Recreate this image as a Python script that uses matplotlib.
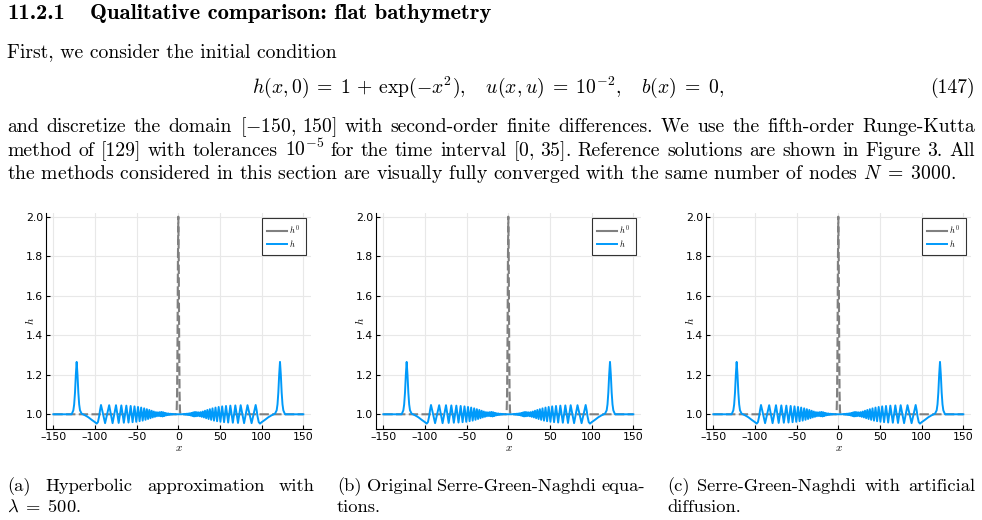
import re
import numpy as np
import matplotlib
matplotlib.use('Agg')
import matplotlib.pyplot as plt
from matplotlib.lines import Line2D

# page size in pixels
W, H = 982, 520

# ---- data ----
# initial condition h0 (gaussian bump at x=0)
h0_x = [-150, -2.5, -2, -1.5, -1, -0.5, 0, 0.5, 1, 1.5, 2, 2.5, 150]
h0_y = [1.0, 1.0, 1.018, 1.105, 1.368, 1.779, 2.0, 1.779, 1.368, 1.105, 1.018, 1.0, 1.0]

# left going solitary wave + dispersive tail (x < 0)
left_x = [-150, -128, -126, -125, -124, -123, -122, -121, -120, -119, -118, -116,
          -112, -108, -104, -100, -98, -96.5, -95, -94,
          -92.8, -87.9, -83.0, -78.9, -74.8, -71.6, -68.4, -65.4, -62.4, -59.8,
          -57.2, -54.9, -52.6, -50.5, -48.4, -46.5, -44.6, -42.8, -41.0, -39.4,
          -37.8, -36.3, -34.8, -33.4, -32.0, -30.7, -29.4, -28.1, -26.9, -25.7,
          -24.5, -23.3, -22.2, -21.1, -20.0, -18.9, -17.9, -16.8, -15.8, -14.8,
          -13.8, -12.8, -11.8, -10.8, -9.8, -8.8, -7.8, -6.8, -5.8, -4.0, -2.0, 0.0]
left_h = [1.0, 1.0, 1.02, 1.05, 1.11, 1.2, 1.265, 1.2, 1.11, 1.05, 1.02, 1.003,
          0.995, 0.985, 0.972, 0.96, 0.953, 0.96, 0.99, 1.02,
          1.047, 0.955, 1.046, 0.955, 1.046, 0.956, 1.045, 0.957, 1.044, 0.958,
          1.042, 0.960, 1.040, 0.962, 1.037, 0.965, 1.034, 0.968, 1.030, 0.972,
          1.026, 0.976, 1.022, 0.980, 1.018, 0.984, 1.014, 0.987, 1.011, 0.990,
          1.010, 0.991, 1.011, 0.990, 1.012, 0.989, 1.010, 0.991, 1.007, 0.994,
          1.005, 0.996, 1.004, 0.997, 1.003, 0.998, 1.002, 0.999, 1.001, 1.0, 1.0, 1.0]

# right going solitary wave + dispersive tail (x > 0)
right_x = [2.0, 4.0, 5.8, 6.8, 7.8, 8.8, 9.8, 10.8, 11.8, 12.8, 13.8, 14.8,
           15.8, 16.8, 17.9, 18.9, 20.0, 21.1, 22.2, 23.3, 24.5, 25.7, 26.9, 28.1,
           29.4, 30.7, 32.0, 33.4, 34.8, 36.3, 37.8, 39.4, 41.0, 42.8, 44.6, 46.5,
           48.4, 50.5, 52.6, 54.9, 57.2, 59.8, 62.4, 65.4, 68.4, 71.6, 74.8, 78.9,
           83.0, 87.9, 92.8,
           94, 95, 96.5, 98, 100, 104, 108, 112,
           116, 118, 119, 120, 121, 122, 123, 124, 125, 126, 128, 150]
right_h = [1.0, 1.0, 1.001, 0.999, 1.002, 0.998, 1.003, 0.997, 1.004, 0.996, 1.005, 0.994,
           1.007, 0.991, 1.010, 0.989, 1.012, 0.990, 1.011, 0.991, 1.010, 0.990, 1.011, 0.987,
           1.014, 0.984, 1.018, 0.980, 1.022, 0.976, 1.026, 0.972, 1.030, 0.968, 1.034, 0.965,
           1.037, 0.962, 1.040, 0.960, 1.042, 0.958, 1.044, 0.957, 1.045, 0.956, 1.046, 0.955,
           1.046, 0.955, 1.047,
           1.02, 0.99, 0.96, 0.953, 0.96, 0.972, 0.985, 0.995,
           1.003, 1.02, 1.05, 1.11, 1.2, 1.265, 1.2, 1.11, 1.05, 1.02, 1.0, 1.0]

xticks = [-150, -100, -50, 0, 50, 100, 150]
xticklabels = ["\u2013150", "\u2013100", "\u201350", "0", "50", "100", "150"]
yticks = [1.0, 1.2, 1.4, 1.6, 1.8, 2.0]

heading_num = "11.2.1"
heading = "Qualitative comparison: flat bathymetry"
intro = "First, we consider the initial condition"
equation = (r"$h(x,0)\;=\;1\,+\,\exp(-x^2),\quad u(x,u)\;=\;10^{-2},"
            r"\quad b(x)\;=\;0,$")
eq_number = "(147)"
paragraph = [
    r"and discretize the domain $[-150,\,150]$ with second-order finite differences. We use the fifth-order Runge-Kutta",
    r"method of [129] with tolerances $10^{-5}$ for the time interval $[0,\,35]$. Reference solutions are shown in Figure 3. All",
    r"the methods considered in this section are visually fully converged with the same number of nodes $N\;=\;3000$.",
]
captions = [
    ("(a) Hyperbolic approximation with", r"$\lambda\;=\;500$."),
    ("(b) Original Serre-Green-Naghdi equa-", "tions."),
    ("(c) Serre-Green-Naghdi with artificial", "diffusion."),
]

plt.rcParams['mathtext.fontset'] = 'cm'
plt.rcParams['axes.unicode_minus'] = False

fig = plt.figure(figsize=(W / 100, H / 100), dpi=100)
renderer = fig.canvas.get_renderer()

TXT = dict(family='cmr10', size=14.2)


def put(x, y, s, **kw):
    opts = dict(TXT)
    opts.update(kw)
    return fig.text(x / W, 1 - y / H, s, va='baseline', **opts)


def justify(line, x0, x1, y, size=14.2):
    words = re.findall(r'\$[^$]*\$\S*|\S+', line)
    texts = [put(0, y, w, size=size) for w in words]
    widths = [t.get_window_extent(renderer).width for t in texts]
    gap = (x1 - x0 - sum(widths)) / (len(words) - 1)
    x = x0
    for t, w in zip(texts, widths):
        t.set_x(x / W)
        x += w + gap


# ---- page text ----
put(7, 19, heading_num, family='cmb10', size=16.3)
put(90, 19, heading, family='cmb10', size=16.3)
put(7, 57, intro)
put(488, 93, equation, ha='center')
put(975, 93, eq_number, ha='right')
justify(paragraph[0], 7, 975, 132)
justify(paragraph[1], 7, 975, 156)
put(7, 179, paragraph[2])

# ---- the three panels ----
h_x = left_x + right_x
h_y = left_h + right_h
col_left = [7, 337, 667]
ax_left = [46, 376, 706]
for i in range(3):
    l = ax_left[i]
    ax = fig.add_axes([l / W, 1 - 429.3 / H, 265 / W, 216 / H])
    ax.plot(h0_x, h0_y, color='#808080', lw=1.5, ls=(0, (4.5, 1.6)))
    ax.plot(h_x, h_y, color='#009AFA', lw=1.4)
    ax.set_xlim(-158.8, 159.2)
    ax.set_ylim(0.924, 2.017)
    ax.set_xticks(xticks)
    ax.set_xticklabels(xticklabels)
    ax.set_yticks(yticks)
    ax.set_yticklabels([f"{v:.1f}" for v in yticks])
    ax.grid(True, color='#e8e8e8', lw=0.8)
    ax.set_axisbelow(True)
    for s in ['top', 'right']:
        ax.spines[s].set_visible(False)
    for s in ['left', 'bottom']:
        ax.spines[s].set_linewidth(0.8)
    ax.tick_params(direction='in', length=3, width=0.8, labelsize=7.8, pad=2)
    ax.set_xlabel(r'$x$', fontsize=8, labelpad=1)
    ax.set_ylabel(r'$h$', fontsize=8)
    ax.yaxis.set_label_coords(-0.038, 0.5)
    handles = [Line2D([], [], color='#808080', lw=1.5),
               Line2D([], [], color='#009AFA', lw=1.4)]
    leg = ax.legend(handles, [r'$h^0$', r'$h$'], loc='upper right',
                    bbox_to_anchor=(0.98, 0.98), fontsize=6,
                    frameon=True, fancybox=False, borderpad=0.7, labelspacing=0.15,
                    handlelength=2.4, handletextpad=0.2, borderaxespad=0)
    leg.get_frame().set_edgecolor('black')
    leg.get_frame().set_linewidth(0.8)

    c0 = col_left[i]
    justify(captions[i][0], c0, c0 + 308, 491, size=13.3)
    put(c0, 512, captions[i][1], size=13.3)

fig.savefig('out.png', dpi=100)
